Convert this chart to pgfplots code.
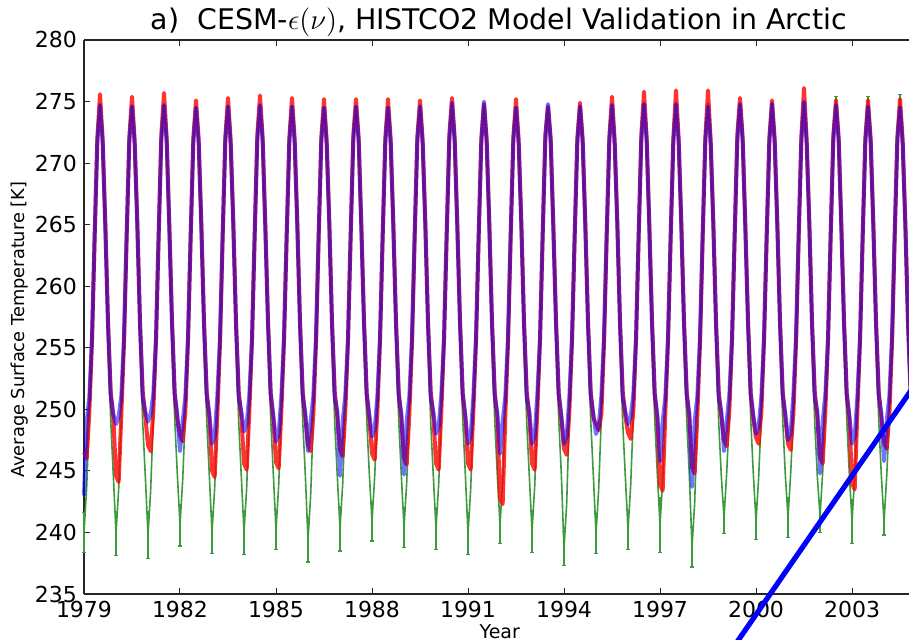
\documentclass[border=0pt]{standalone}
\usepackage{fontspec}
\setmainfont{DejaVu Sans}
\usepackage{pgfplots}
\usepackage{pgfplotstable}
\pgfplotsset{compat=1.18}
\definecolor{gcol}{RGB}{60,155,60}
\pgfplotstableread{
x r b g
1979.000 246.5 243.0 240.0
1979.083 246.0 249.0 243.6
1979.167 249.8 251.0 249.6
1979.250 255.6 255.8 255.2
1979.333 264.1 264.0 263.6
1979.417 272.0 271.8 271.6
1979.500 275.6 274.7 274.8
1979.583 271.9 271.7 271.5
1979.667 265.0 264.8 264.1
1979.750 257.1 257.0 255.6
1979.833 251.4 251.2 249.2
1979.917 249.3 249.6 244.6
1980.000 244.6 248.8 239.9
1980.083 244.1 249.4 243.5
1980.167 249.6 251.1 249.4
1980.250 255.4 255.9 255.0
1980.333 264.0 264.2 263.5
1980.417 272.1 271.9 271.7
1980.500 275.4 274.6 274.7
1980.583 271.8 271.6 271.4
1980.667 265.1 264.9 264.2
1980.750 257.0 257.1 255.5
1980.833 251.5 251.0 249.0
1980.917 249.4 249.8 244.5
1981.000 247.1 249.0 239.8
1981.083 246.6 249.6 243.4
1981.167 249.9 251.2 249.5
1981.250 255.7 255.7 255.3
1981.333 264.2 264.1 263.7
1981.417 272.3 272.0 271.7
1981.500 275.7 274.7 274.8
1981.583 272.0 271.8 271.6
1981.667 264.9 264.7 264.0
1981.750 257.2 257.0 255.7
1981.833 251.3 251.3 249.3
1981.917 249.2 249.5 244.7
1982.000 247.9 246.6 240.6
1982.083 247.4 249.0 244.2
1982.167 249.8 251.0 249.6
1982.250 255.6 255.8 255.2
1982.333 264.1 264.0 263.6
1982.417 272.0 271.8 271.6
1982.500 275.1 274.5 274.6
1982.583 271.9 271.7 271.5
1982.667 265.0 264.8 264.1
1982.750 257.1 257.0 255.6
1982.833 251.4 251.2 249.2
1982.917 249.3 249.6 244.6
1983.000 245.0 247.2 240.0
1983.083 244.5 247.8 243.6
1983.167 249.6 251.1 249.4
1983.250 255.4 255.9 255.0
1983.333 264.0 264.2 263.5
1983.417 272.1 271.9 271.7
1983.500 275.3 274.6 274.7
1983.583 271.8 271.6 271.4
1983.667 265.1 264.9 264.2
1983.750 257.0 257.1 255.5
1983.833 251.5 251.0 249.0
1983.917 249.4 249.8 244.5
1984.000 245.6 248.2 240.0
1984.083 245.1 248.8 243.6
1984.167 249.9 251.2 249.5
1984.250 255.7 255.7 255.3
1984.333 264.2 264.1 263.7
1984.417 272.3 272.0 271.7
1984.500 275.5 274.7 274.7
1984.583 272.0 271.8 271.6
1984.667 264.9 264.7 264.0
1984.750 257.2 257.0 255.7
1984.833 251.3 251.3 249.3
1984.917 249.2 249.5 244.7
1985.000 245.7 247.4 240.2
1985.083 245.2 248.0 243.8
1985.167 249.8 251.0 249.6
1985.250 255.6 255.8 255.2
1985.333 264.1 264.0 263.6
1985.417 272.0 271.8 271.6
1985.500 275.3 274.6 274.6
1985.583 271.9 271.7 271.5
1985.667 265.0 264.8 264.1
1985.750 257.1 257.0 255.6
1985.833 251.4 251.2 249.2
1985.917 249.3 249.6 244.6
1986.000 247.1 246.6 239.4
1986.083 246.6 249.0 243.0
1986.167 249.6 251.1 249.4
1986.250 255.4 255.9 255.0
1986.333 264.0 264.2 263.5
1986.417 272.1 271.9 271.7
1986.500 275.2 274.5 274.6
1986.583 271.8 271.6 271.4
1986.667 265.1 264.9 264.2
1986.750 257.0 257.1 255.5
1986.833 251.5 251.0 249.0
1986.917 249.4 249.8 244.5
1987.000 246.7 244.6 240.3
1987.083 246.2 249.0 243.9
1987.167 249.9 251.2 249.5
1987.250 255.7 255.7 255.3
1987.333 264.2 264.1 263.7
1987.417 272.3 272.0 271.7
1987.500 275.2 274.6 274.6
1987.583 272.0 271.8 271.6
1987.667 264.9 264.7 264.0
1987.750 257.2 257.0 255.7
1987.833 251.3 251.3 249.3
1987.917 249.2 249.5 244.7
1988.000 246.4 247.8 240.9
1988.083 245.9 248.4 244.5
1988.167 249.8 251.0 249.6
1988.250 255.6 255.8 255.2
1988.333 264.1 264.0 263.6
1988.417 272.0 271.8 271.6
1988.500 275.2 274.5 274.6
1988.583 271.9 271.7 271.5
1988.667 265.0 264.8 264.1
1988.750 257.1 257.0 255.6
1988.833 251.4 251.2 249.2
1988.917 249.3 249.6 244.6
1989.000 246.0 244.7 240.4
1989.083 245.5 249.0 244.0
1989.167 249.6 251.1 249.4
1989.250 255.4 255.9 255.0
1989.333 264.0 264.2 263.5
1989.417 272.1 271.9 271.7
1989.500 275.1 274.6 274.7
1989.583 271.8 271.6 271.4
1989.667 265.1 264.9 264.2
1989.750 257.0 257.1 255.5
1989.833 251.5 251.0 249.0
1989.917 249.4 249.8 244.5
1990.000 245.6 248.0 240.3
1990.083 245.1 248.6 243.9
1990.167 249.9 251.2 249.5
1990.250 255.7 255.7 255.3
1990.333 264.2 264.1 263.7
1990.417 272.3 272.0 271.7
1990.500 275.3 274.9 274.8
1990.583 272.0 271.8 271.6
1990.667 264.9 264.7 264.0
1990.750 257.2 257.0 255.7
1990.833 251.3 251.3 249.3
1990.917 249.2 249.5 244.7
1991.000 245.6 247.2 239.9
1991.083 245.1 247.8 243.5
1991.167 249.8 251.0 249.6
1991.250 255.6 255.8 255.2
1991.333 264.1 264.0 263.6
1991.417 272.0 271.8 271.6
1991.500 274.8 275.0 274.6
1991.583 271.9 271.7 271.5
1991.667 265.0 264.8 264.1
1991.750 257.1 257.0 255.6
1991.833 251.4 251.2 249.2
1991.917 249.3 249.6 244.6
1992.000 242.8 246.4 240.6
1992.083 242.3 249.0 244.2
1992.167 249.6 251.1 249.4
1992.250 255.4 255.9 255.0
1992.333 264.0 264.2 263.5
1992.417 272.1 271.9 271.7
1992.500 275.2 274.5 274.6
1992.583 271.8 271.6 271.4
1992.667 265.1 264.9 264.2
1992.750 257.0 257.1 255.5
1992.833 251.5 251.0 249.0
1992.917 249.4 249.8 244.5
1993.000 245.6 247.2 240.1
1993.083 245.1 247.8 243.7
1993.167 249.9 251.2 249.5
1993.250 255.7 255.7 255.3
1993.333 264.2 264.1 263.7
1993.417 272.3 272.0 271.7
1993.500 274.6 274.8 274.5
1993.583 272.0 271.8 271.6
1993.667 264.9 264.7 264.0
1993.750 257.2 257.0 255.7
1993.833 251.3 251.3 249.3
1993.917 249.2 249.5 244.7
1994.000 246.8 247.2 238.7
1994.083 246.3 247.8 242.3
1994.167 249.8 251.0 249.6
1994.250 255.6 255.8 255.2
1994.333 264.1 264.0 263.6
1994.417 272.0 271.8 271.6
1994.500 274.9 274.6 274.7
1994.583 271.9 271.7 271.5
1994.667 265.0 264.8 264.1
1994.750 257.1 257.0 255.6
1994.833 251.4 251.2 249.2
1994.917 249.3 249.6 244.6
1995.000 248.8 248.0 239.9
1995.083 248.3 248.6 243.5
1995.167 249.6 251.1 249.4
1995.250 255.4 255.9 255.0
1995.333 264.0 264.2 263.5
1995.417 272.1 271.9 271.7
1995.500 275.4 274.7 274.8
1995.583 271.8 271.6 271.4
1995.667 265.1 264.9 264.2
1995.750 257.0 257.1 255.5
1995.833 251.5 251.0 249.0
1995.917 249.4 249.8 244.5
1996.000 248.1 248.8 240.2
1996.083 247.6 249.4 243.8
1996.167 249.9 251.2 249.5
1996.250 255.7 255.7 255.3
1996.333 264.2 264.1 263.7
1996.417 272.3 272.0 271.7
1996.500 275.8 274.8 274.9
1996.583 272.0 271.8 271.6
1996.667 264.9 264.7 264.0
1996.750 257.2 257.0 255.7
1996.833 251.3 251.3 249.3
1996.917 249.2 249.5 244.7
1997.000 243.9 245.8 240.6
1997.083 243.4 249.0 244.2
1997.167 249.8 251.0 249.6
1997.250 255.6 255.8 255.2
1997.333 264.1 264.0 263.6
1997.417 272.0 271.8 271.6
1997.500 275.9 274.8 274.8
1997.583 271.9 271.7 271.5
1997.667 265.0 264.8 264.1
1997.750 257.1 257.0 255.6
1997.833 251.4 251.2 249.2
1997.917 249.3 249.6 244.6
1998.000 245.3 243.7 238.8
1998.083 244.8 249.0 242.4
1998.167 249.6 251.1 249.4
1998.250 255.4 255.9 255.0
1998.333 264.0 264.2 263.5
1998.417 272.1 271.9 271.7
1998.500 275.9 274.6 274.9
1998.583 271.8 271.6 271.4
1998.667 265.1 264.9 264.2
1998.750 257.0 257.1 255.5
1998.833 251.5 251.0 249.0
1998.917 249.4 249.8 244.5
1999.000 247.5 246.6 241.2
1999.083 247.0 249.0 244.8
1999.167 249.9 251.2 249.5
1999.250 255.7 255.7 255.3
1999.333 264.2 264.1 263.7
1999.417 272.3 272.0 271.7
1999.500 275.3 274.8 274.8
1999.583 272.0 271.8 271.6
1999.667 264.9 264.7 264.0
1999.750 257.2 257.0 255.7
1999.833 251.3 251.3 249.3
1999.917 249.2 249.5 244.7
2000.000 247.7 248.0 240.9
2000.083 247.2 248.6 244.5
2000.167 249.8 251.0 249.6
2000.250 255.6 255.8 255.2
2000.333 264.1 264.0 263.6
2000.417 272.0 271.8 271.6
2000.500 275.1 274.8 274.9
2000.583 271.9 271.7 271.5
2000.667 265.0 264.8 264.1
2000.750 257.1 257.0 255.6
2000.833 251.4 251.2 249.2
2000.917 249.3 249.6 244.6
2001.000 247.2 247.5 241.2
2001.083 246.7 248.1 244.8
2001.167 249.6 251.1 249.4
2001.250 255.4 255.9 255.0
2001.333 264.0 264.2 263.5
2001.417 272.1 271.9 271.7
2001.500 276.1 275.0 274.9
2001.583 271.8 271.6 271.4
2001.667 265.1 264.9 264.2
2001.750 257.0 257.1 255.5
2001.833 251.5 251.0 249.0
2001.917 249.4 249.8 244.5
2002.000 246.1 244.8 241.3
2002.083 245.6 249.0 244.9
2002.167 249.9 251.2 249.5
2002.250 255.7 255.7 255.3
2002.333 264.2 264.1 263.7
2002.417 272.3 272.0 271.7
2002.500 275.1 274.7 275.0
2002.583 272.0 271.8 271.6
2002.667 264.9 264.7 264.0
2002.750 257.2 257.0 255.7
2002.833 251.3 251.3 249.3
2002.917 249.2 249.5 244.7
2003.000 244.0 247.2 240.9
2003.083 243.5 247.8 244.5
2003.167 249.8 251.0 249.6
2003.250 255.6 255.8 255.2
2003.333 264.1 264.0 263.6
2003.417 272.0 271.8 271.6
2003.500 275.1 274.6 275.0
2003.583 271.9 271.7 271.5
2003.667 265.0 264.8 264.1
2003.750 257.1 257.0 255.6
2003.833 251.4 251.2 249.2
2003.917 249.3 249.6 244.6
2004.000 247.3 245.8 240.9
2004.083 246.8 249.0 244.5
2004.167 249.6 251.1 249.4
2004.250 255.4 255.9 255.0
2004.333 264.0 264.2 263.5
2004.417 272.1 271.9 271.7
2004.500 275.2 274.5 275.1
2004.583 271.8 271.6 271.4
2004.667 265.1 264.9 264.2
2004.750 257.0 257.1 255.5
2004.833 251.5 251.0 249.0
2004.917 249.4 249.8 244.5
2005.000 247.0 247.0 240.5
}\data
\pgfplotstableread{
x g e
1979.000 240.0 1.6
1980.000 239.9 1.8
1981.000 239.8 1.9
1982.000 240.6 1.7
1983.000 240.0 1.7
1984.000 240.0 1.8
1985.000 240.2 1.6
1986.000 239.4 1.8
1987.000 240.3 1.8
1988.000 240.9 1.6
1989.000 240.4 1.6
1990.000 240.3 1.7
1991.000 239.9 1.7
1992.000 240.6 1.5
1993.000 240.1 1.7
1994.000 238.7 1.4
1995.000 239.9 1.6
1996.000 240.2 1.6
1997.000 240.6 2.2
1998.000 238.8 1.6
1999.000 241.2 1.3
2000.000 240.9 1.5
2001.000 241.2 1.6
2002.000 241.3 1.3
2003.000 240.9 1.8
2004.000 240.9 1.1
2002.500 275.0 0.4
2003.500 275.0 0.4
2004.500 275.1 0.5
}\errs
\begin{document}
\begin{tikzpicture}
\begin{axis}[
  scale only axis, width=412.5pt, height=277pt,
  xmin=1979, xmax=2004.781, ymin=235, ymax=280,
  axis x line=box, axis y line=left,
  axis line style={-, line width=0.6pt, black!85},
  clip=false,
  xtick={1979,1982,...,2003}, ytick={235,240,...,280},
  tick align=inside, major tick length=3pt,
  tick style={black!85, line width=0.5pt},
  /pgf/number format/assume math mode=true,
  /pgf/number format/1000 sep={},
  tick label style={font=\fontsize{11}{13}\selectfont},
  title={a)\ \ CESM-$\epsilon(\nu)$, HISTCO2 Model Validation in Arctic},
  title style={font=\fontsize{14.2}{16}\selectfont, at={(axis description cs:0.5,1)}, anchor=base, yshift=-1pt, xshift=1.25pt},
  xlabel={Year},
  xlabel style={font=\fontsize{9.5}{11}\selectfont, at={(axis description cs:0.504,-0.0676)}, anchor=center},
  ylabel={Average Surface Temperature [K]},
  ylabel style={font=\fontsize{8.9}{10}\selectfont, at={(axis description cs:-0.0776,0.477)}, anchor=center},
]
\addplot[gcol, line width=0.8pt, line join=round] table[x=x, y=g]{\data};
\addplot[draw=none, gcol, forget plot,
  error bars/.cd, y dir=both, y explicit,
  error bar style={line width=0.6pt, gcol},
  error mark options={rotate=90, mark size=1.1pt, gcol, line width=0.6pt}]
  table[x=x, y=g, y error=e]{\errs};
\addplot[red, opacity=0.8, line width=2pt, line join=round] table[x=x, y=r]{\data};
\addplot[blue, opacity=0.55, line width=2pt, line join=round] table[x=x, y=b]{\data};
\addplot[blue, line width=2.6pt] coordinates {(1999.3,230.7) (2004.9,251.75)};
\coordinate (bl) at (rel axis cs:-0.10182,-0.08303);
\coordinate (tr) at (rel axis cs:1,1.0722);
\end{axis}
\pgfresetboundingbox
\path[use as bounding box] (bl) rectangle (tr);
\end{tikzpicture}
\end{document}
